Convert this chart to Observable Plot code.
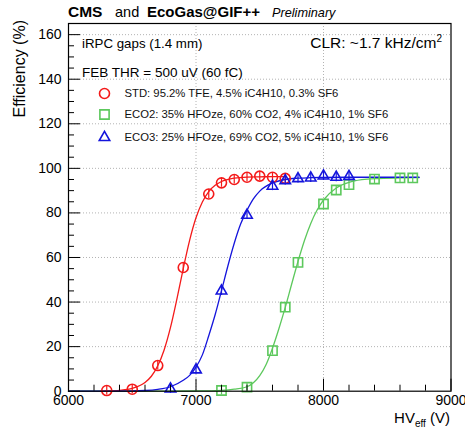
<!DOCTYPE html>
<html><head><meta charset="utf-8">
<script src="https://cdn.jsdelivr.net/npm/d3@7"></script>
<script src="https://cdn.jsdelivr.net/npm/@observablehq/plot@0.6"></script>
<style>
html,body{margin:0;padding:0;background:#fff;}
svg{display:block;}
</style></head><body><div id="chart"></div>
<script>
// ---- measured points (HV_eff in V, efficiency in %) ----
const stdHV  = [6300, 6500, 6700, 6900, 7100, 7200, 7300, 7400, 7500, 7600, 7700];
const stdEff = [0.3, 0.9, 11.5, 55.5, 88.5, 93.5, 95.0, 96.0, 96.5, 96.0, 95.5];
const eco2HV  = [7200, 7400, 7600, 7700, 7800, 8000, 8100, 8200, 8400, 8600, 8700];
const eco2Eff = [0.3, 1.8, 18.2, 37.7, 57.8, 84.0, 90.3, 92.7, 95.2, 95.7, 95.7];
const eco3HV  = [6800, 7000, 7200, 7400, 7600, 7700, 7800, 7900, 8000, 8100, 8200];
const eco3Eff = [1.0, 9.6, 45.0, 79.0, 92.0, 94.5, 95.4, 95.7, 96.6, 96.0, 96.4];
const statErr = 2.0; // %

// ---- fitted curves ----
const stdFitHV  = [6250, 6300, 6400, 6500, 6600, 6650, 6700, 6750, 6800, 6850, 6900, 6950, 7000, 7050, 7100, 7150, 7200, 7300, 7400, 7500, 7600, 7700];
const stdFitEff = [0.07, 0.13, 0.41, 1.27, 3.9, 6.7, 11.4, 18.5, 28.6, 41.3, 55.0, 67.7, 77.8, 84.9, 89.6, 92.4, 94.1, 95.6, 96.1, 96.2, 96.3, 96.3];
const eco2FitHV  = [6000, 6800, 7000, 7200, 7300, 7400, 7450, 7500, 7550, 7600, 7650, 7700, 7750, 7800, 7850, 7900, 7950, 8000, 8100, 8200, 8300, 8400, 8600, 8750];
const eco2FitEff = [0, 0.02, 0.1, 0.4, 0.9, 2.0, 3.8, 7.0, 12.0, 19.3, 28.0, 37.6, 48.0, 58.2, 67.5, 75.3, 81.3, 85.8, 91.2, 93.7, 94.9, 95.4, 95.7, 95.8];
const eco3FitHV  = [6000, 6400, 6600, 6700, 6800, 6900, 6950, 7000, 7050, 7100, 7150, 7200, 7250, 7300, 7350, 7400, 7450, 7500, 7600, 7700, 7800, 7900, 8000, 8200, 8500, 8750];
const eco3FitEff = [0, 0.05, 0.32, 0.81, 2.0, 4.9, 7.1, 10.8, 16.3, 24.9, 34.3, 45.1, 56.2, 66.4, 75.0, 81.2, 86.3, 89.8, 93.4, 95.0, 95.6, 95.8, 95.9, 96.0, 96.0, 96.0];

// ---- labels / ticks ----
const seriesNames = ["STD: 95.2% TFE, 4.5% iC4H10, 0.3% SF6",
                     "ECO2: 35% HFOze, 60% CO2, 4% iC4H10, 1% SF6",
                     "ECO3: 25% HFOze, 69% CO2, 5% iC4H10, 1% SF6"];
const xMajor = [6000, 7000, 8000, 9000];
const xMinor = [6200, 6400, 6600, 6800, 7200, 7400, 7600, 7800, 8200, 8400, 8600, 8800];
const yMajor = [0, 20, 40, 60, 80, 100, 120, 140, 160];
const yMinor = d3.range(5, 165, 5).filter(v => v % 20 !== 0);

// ---- layout ----
const FONT = "'Liberation Sans', Arial, Helvetica, sans-serif";
const W = 465, H = 429, mL = 68, mR = 14.5, mT = 23, mB = 38.3;
const frameW = W - mL - mR, frameH = H - mT - mB;
const RED = "#f41a1a", GREEN = "#5cc85c", BLUE = "#1414dc";

const pts = (hv, eff) => hv.map((v, i) => ({hv: v, eff: eff[i]}));
const series = [
  {pts: pts(stdHV, stdEff),   fit: pts(stdFitHV, stdFitEff),   color: RED,   symbol: "circle",   r: 5},
  {pts: pts(eco2HV, eco2Eff), fit: pts(eco2FitHV, eco2FitEff), color: GREEN, symbol: "square",   r: 5.2},
  {pts: pts(eco3HV, eco3Eff), fit: pts(eco3FitHV, eco3FitEff), color: BLUE,  symbol: "triangle", r: 3.9}
];
const drawOrder = [1, 0, 2];

const marks = [
  Plot.ruleX(xMajor.slice(1, -1), {stroke: "#a0a0a0", strokeWidth: 0.8, strokeDasharray: "1,2"}),
  Plot.ruleY(yMajor.slice(1), {stroke: "#a0a0a0", strokeWidth: 0.8, strokeDasharray: "1,2"})
];
for (const k of drawOrder) {
  const s = series[k];
  marks.push(Plot.line(s.fit, {x: "hv", y: "eff", stroke: s.color, strokeWidth: 1.3, curve: "monotone-x"}));
}
for (const k of drawOrder) {
  const s = series[k];
  marks.push(Plot.ruleX(s.pts, {x: "hv", y1: d => d.eff - statErr, y2: d => d.eff + statErr, stroke: s.color, strokeWidth: 1.2}));
  marks.push(Plot.dot(s.pts, {x: "hv", y: "eff", symbol: () => s.symbol, r: s.r, stroke: s.color, fill: "none", strokeWidth: 1.6}));
}
// legend symbols and labels
const legendDy = [70, 91, 114];
series.forEach((s, k) => {
  marks.push(Plot.dot([seriesNames[k]], {frameAnchor: "top-left", dx: 36, dy: legendDy[k], symbol: () => s.symbol, r: s.r, stroke: s.color, fill: "none", strokeWidth: 1.6}));
  marks.push(Plot.text([seriesNames[k]], {frameAnchor: "top-left", dx: 56, dy: legendDy[k], textAnchor: "start", lineAnchor: "middle", fontSize: 11.3, fill: "#111"}));
});
// inward ticks (ROOT style)
marks.push(
  Plot.tickX(xMajor, {x: d => d, insetTop: frameH - 12, stroke: "black"}),
  Plot.tickX(xMinor, {x: d => d, insetTop: frameH - 6, stroke: "black"}),
  Plot.tickY(yMajor, {y: d => d, insetRight: frameW - 12, stroke: "black"}),
  Plot.tickY(yMinor, {y: d => d, insetRight: frameW - 6, stroke: "black"}),
  Plot.axisX(xMajor, {tickSize: 0, tickPadding: 4, fontSize: 14, label: null, tickFormat: d => String(d)}),
  Plot.axisY(yMajor, {tickSize: 0, tickPadding: 7, fontSize: 14, label: null, tickFormat: d => String(d)}),
  Plot.frame({stroke: "black", strokeWidth: 1.2})
);

const plot = Plot.plot({
  width: W, height: H,
  marginLeft: mL, marginRight: mR, marginTop: mT, marginBottom: mB,
  x: {domain: [6000, 9000]},
  y: {domain: [0, 165]},
  style: {fontFamily: FONT, fontSize: "14px", background: "white", color: "black", overflow: "visible"},
  marks
});

const svg = d3.select(plot);
const g = svg.append("g").attr("font-family", FONT).attr("fill", "black").attr("text-anchor", "start");
// title
const t = g.append("text").attr("y", 17);
t.append("tspan").attr("x", 68).attr("font-weight", "bold").attr("font-size", 15.5).text("CMS");
t.append("tspan").attr("x", 115).attr("font-size", 14.5).text("and");
t.append("tspan").attr("x", 147).attr("font-weight", "bold").attr("font-size", 15).text("EcoGas@GIF++");
t.append("tspan").attr("x", 272).attr("font-style", "italic").attr("font-size", 12.7).text("Preliminary");
// inner labels
g.append("text").attr("x", 82).attr("y", 48).attr("font-size", 13.3).text("iRPC gaps (1.4 mm)");
g.append("text").attr("x", 82).attr("y", 77).attr("font-size", 13.5).text("FEB THR = 500 uV (60 fC)");
const c = g.append("text").attr("x", 442).attr("y", 48).attr("font-size", 15.5).attr("text-anchor", "end");
c.append("tspan").text("CLR: ~1.7 kHz/cm");
c.append("tspan").attr("font-size", 10).attr("dy", -6).text("2");
// axis titles
g.append("text").attr("transform", "translate(25,20) rotate(-90)").attr("text-anchor", "end").attr("font-size", 16).text("Efficiency (%)");
const xl = g.append("text").attr("x", 450).attr("y", 423).attr("text-anchor", "end").attr("font-size", 15);
xl.append("tspan").text("HV");
xl.append("tspan").attr("font-size", 10).attr("dy", 3.5).text("eff");
xl.append("tspan").attr("dy", -3.5).text(" (V)");

document.getElementById("chart").appendChild(plot);
</script></body></html>
